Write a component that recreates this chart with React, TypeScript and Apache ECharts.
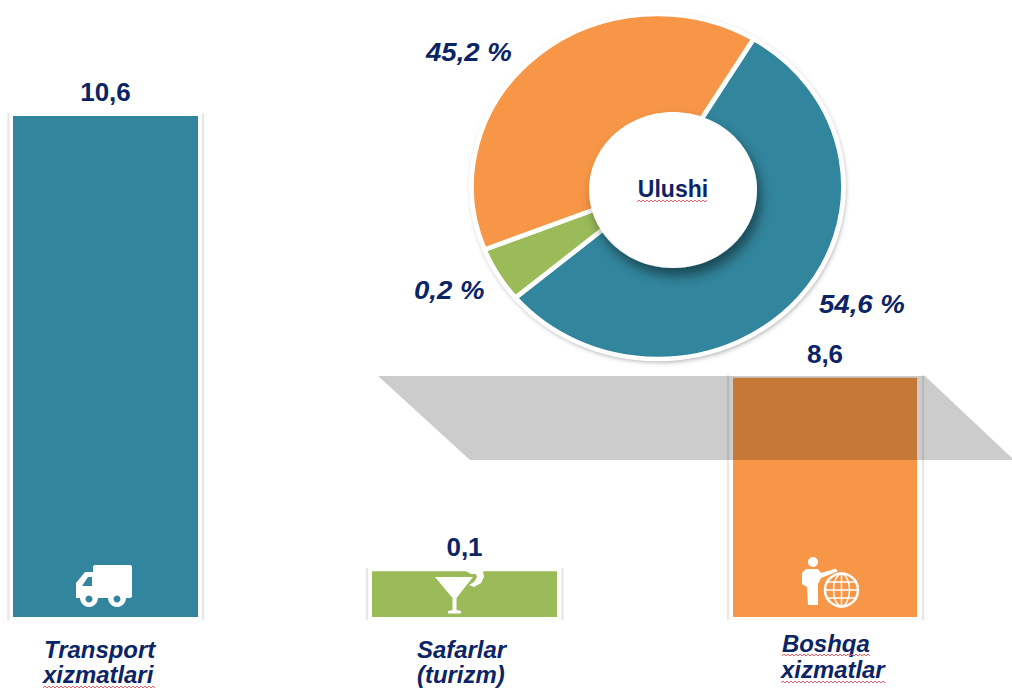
import React, { useEffect, useRef } from "react";
import * as echarts from "echarts";

// Printed labels of the bars.
const categories = ["Transport\nxizmatlari", "Safarlar\n(turizm)", "Boshqa\nxizmatlar"];
const barLabels = ["10,6", "0,1", "8,6"];
// The picture does not draw bars to scale with their labels: these are the drawn heights
// in the units of the tallest bar.
const barDrawn = [10.6, 0.97, 5.06];
const barColors = ["#31859C", "#9BBB59", "#F79646"];

// Printed labels of the doughnut and the shares actually drawn.
const sliceLabels = ["54,6 %", "0,2 %", "45,2 %"];
const sliceDrawn = [55.2, 5.2, 39.6];
const sliceColors = ["#31859C", "#9BBB59", "#F79646"];
const centreLabel = "Ulushi";

const NAVY = "#0B2466";
const FONT = '"Liberation Sans", Arial, sans-serif';
const PIE = { cx: 657.5, cy: 186.5, rx: 186, ry: 172.5, start: -58.9 };
const BAR_GEOM = [
  { left: 13, width: 185 },
  { left: 372, width: 185 },
  { left: 733, width: 184 },
];
const TOP = 116;
const BOTTOM = 617;

const squiggle = (x0: number, x1: number, y: number) => {
  const points: number[][] = [];
  let up = false;
  for (let x = x0; x <= x1; x += 2) {
    points.push([x, up ? y - 1 : y + 1]);
    up = !up;
  }
  return {
    type: "polyline",
    z: 12,
    silent: true,
    shape: { points },
    style: { stroke: "#E8606A", lineWidth: 1, fill: "none" },
  };
};

const line = (x1: number, y1: number, x2: number, y2: number, z = 1, stroke = "#E8E8E8", lineWidth = 2.5) => ({
  type: "line",
  z,
  silent: true,
  shape: { x1, y1, x2, y2 },
  style: { stroke, lineWidth },
});

// y is the text's baseline
const text = (t: string, x: number, y: number, size: number, italic: boolean, align = "left", scaleX = 1) => ({
  type: "text",
  z: 12,
  x,
  y: y - size * 0.87,
  scaleX,
  originX: 0,
  silent: true,
  style: {
    text: t,
    fill: NAVY,
    font: `${italic ? "italic " : ""}bold ${size}px ${FONT}`,
    textAlign: align,
    verticalAlign: "top",
  },
});

const W = "#FFFFFF";
const disc = (cx: number, cy: number, r: number, fill = W, z = 6) => ({
  type: "circle",
  z,
  silent: true,
  shape: { cx, cy, r },
  style: { fill },
});

const truck = () => [
  { type: "rect", z: 6, silent: true, shape: { x: 93, y: 565, width: 39, height: 33, r: 2 }, style: { fill: W } },
  { type: "polygon", z: 6, silent: true, shape: { points: [[94, 572], [85, 572], [76, 583], [76, 598], [94, 598]] }, style: { fill: W } },
  { type: "polygon", z: 7, silent: true, shape: { points: [[82, 586], [92, 586], [92, 577], [88, 577]] }, style: { fill: barColors[0] } },
  disc(89, 598, 9),
  disc(117, 598, 9),
  disc(89, 599, 3.5, barColors[0], 7),
  disc(117, 599, 3.5, barColors[0], 7),
];

const cocktail = () => [
  { type: "polygon", z: 6, silent: true, shape: { points: [[435, 577], [473, 577], [456.5, 598], [456.5, 610], [461, 611], [461, 613.5], [448, 613.5], [448, 611], [452.5, 610], [452.5, 598]] }, style: { fill: W } },
  { type: "polygon", z: 6, silent: true, shape: { points: [[466, 571], [483, 571], [484, 577], [481, 583], [474, 587], [469, 585], [474, 582], [477, 577], [476, 574], [471, 574]] }, style: { fill: W } },
];

const presenter = () => [
  disc(813, 562, 5),
  { type: "polygon", z: 6, silent: true, shape: { points: [[802, 573], [806, 569], [818, 569], [821, 573], [836, 568.5], [837.5, 571.5], [821, 578], [818, 584], [818, 605], [808, 605], [807, 587], [802, 584]] }, style: { fill: W } },
  { type: "circle", z: 6, silent: true, shape: { cx: 841.5, cy: 590, r: 16.5 }, style: { fill: "none", stroke: W, lineWidth: 2.5 } },
  { type: "ellipse", z: 6, silent: true, shape: { cx: 841.5, cy: 590, rx: 8, ry: 16 }, style: { fill: "none", stroke: W, lineWidth: 1.5 } },
  line(841.5, 574, 841.5, 606, 6, W, 1.5),
  line(825, 590, 858, 590, 6, W, 1.5),
  line(828, 582, 855, 582, 6, W, 1.5),
  line(828, 598, 855, 598, 6, W, 1.5),
];

export default function App() {
  const ref = useRef<HTMLDivElement>(null);
  useEffect(() => {
    const chart = echarts.init(ref.current!, undefined, { renderer: "svg" });
    const R = 100;
    const cumulative = sliceDrawn.map((_, i) => sliceDrawn.slice(0, i).reduce((a, b) => a + b, 0));
    const names = categories.map((c) => c.split("\n"));

    chart.setOption({
      animation: false,
      backgroundColor: "#FFFFFF",
      grid: BAR_GEOM.map((g) => ({ left: g.left, width: g.width, top: TOP, height: BOTTOM - TOP })),
      xAxis: categories.map((c, i) => ({
        type: "category",
        gridIndex: i,
        data: [c],
        axisLine: { show: false },
        axisTick: { show: false },
        axisLabel: { show: false },
      })),
      yAxis: categories.map((_, i) => ({
        type: "value",
        gridIndex: i,
        min: 0,
        max: 10.6,
        show: false,
      })),
      series: [
        ...categories.map((c, i) => ({
          type: "bar",
          z: 3,
          xAxisIndex: i,
          yAxisIndex: i,
          barWidth: "100%",
          data: [barDrawn[i]],
          itemStyle: { color: barColors[i] },
          label: {
            show: true,
            position: "top",
            distance: 11,
            formatter: () => barLabels[i],
            color: NAVY,
            fontFamily: FONT,
            fontWeight: "bold",
            fontSize: 26,
          },
        })),
        {
          type: "custom",
          coordinateSystem: "none",
          z: 4,
          silent: true,
          data: sliceDrawn.map((v, i) => [v, i]),
          renderItem: (_p: any, api: any) => {
            const i = api.value(1);
            const a0 = ((PIE.start + cumulative[i] * 3.6) * Math.PI) / 180;
            const a1 = ((PIE.start + (cumulative[i] + api.value(0)) * 3.6) * Math.PI) / 180;
            return {
              type: "sector",
              x: PIE.cx,
              y: PIE.cy,
              scaleX: PIE.rx / R,
              scaleY: PIE.ry / R,
              shape: { cx: 0, cy: 0, r: R, r0: 0, startAngle: a0, endAngle: a1, clockwise: true },
              style: { fill: sliceColors[i], stroke: "#FFFFFF", lineWidth: 2.6 },
            };
          },
        },
      ],
      graphic: {
        elements: [
          // soft frames round the bars
          line(8.5, 113, 8.5, 620), line(203, 113, 203, 620),
          line(367, 568, 367, 620), line(562.5, 568, 562.5, 620),
          line(728, 375, 728, 620), line(923, 375, 923, 620),
          // white rim and shadow of the doughnut
          {
            type: "ellipse", z: 1, silent: true,
            shape: { cx: PIE.cx, cy: PIE.cy, rx: PIE.rx + 1, ry: PIE.ry + 1 },
            style: { fill: "#FFFFFF", shadowBlur: 5, shadowColor: "rgba(0,0,0,0.35)", shadowOffsetX: 1, shadowOffsetY: 2 },
          },
          // central disc
          {
            type: "ellipse", z: 10, silent: true,
            shape: { cx: 673, cy: 190, rx: 84, ry: 78 },
            style: { fill: "#FFFFFF", shadowBlur: 12, shadowColor: "rgba(0,0,0,0.45)", shadowOffsetX: 4, shadowOffsetY: 8 },
          },
          // translucent grey band
          {
            type: "polygon", z: 8, silent: true,
            shape: { points: [[378, 376], [925, 376], [1014, 460], [470, 460]] },
            style: { fill: "rgba(0,0,0,0.2)" },
          },
          ...truck(),
          ...cocktail(),
          ...presenter(),
          // doughnut labels
          text(centreLabel, 673, 198, 23, false, "center"),
          text(sliceLabels[2], 426, 62, 26, true, "left", 1.06),
          text(sliceLabels[1], 414, 300, 26, true, "left", 1.06),
          text(sliceLabels[0], 819, 314, 26, true, "left", 1.06),
          // category names
          text(names[0][0], 44, 659, 23, true, "left", 1.04),
          text(names[0][1], 43, 684, 23, true, "left", 1.04),
          text(names[1][0], 417, 659, 23, true, "left", 1.04),
          text(names[1][1], 417, 684, 23, true, "left", 1.04),
          text(names[2][0], 782, 653, 23, true, "left", 1.04),
          text(names[2][1], 781, 679, 23, true, "left", 1.04),
          // spell-check squiggles visible in the picture
          squiggle(637, 708, 201),
          squiggle(43, 156, 687),
          squiggle(782, 870, 655),
          squiggle(781, 886, 682),
        ],
      },
    });
    return () => chart.dispose();
  }, []);
  return <div ref={ref} style={{ position: "fixed", left: 0, top: 0, width: 1012, height: 690 }} />;
}
